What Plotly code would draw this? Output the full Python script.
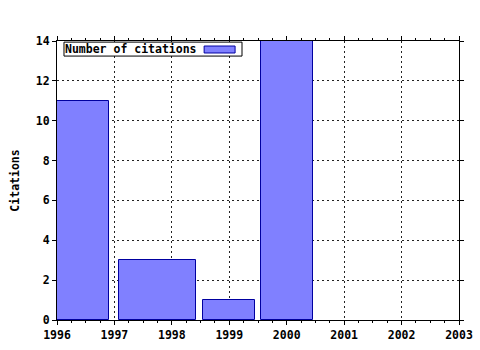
import plotly.graph_objects as go

years = [1996, 1998, 1999, 2000]
citations = [11, 3, 1, 14]
legend_label = "Number of citations"
y_title = "Citations"
x_ticks = [1996, 1997, 1998, 1999, 2000, 2001, 2002, 2003]
y_ticks = [0, 2, 4, 6, 8, 10, 12, 14]

# gnuplot-style automatic box widths (boxwidth 0.9 relative)
centers, widths = [], []
n = len(years)
for i in range(n):
    left = (years[i - 1] + years[i]) / 2 if i > 0 else years[i] - (years[i + 1] - years[i]) / 2
    right = (years[i] + years[i + 1]) / 2 if i < n - 1 else years[i] + (years[i] - years[i - 1]) / 2
    centers.append((left + right) / 2)
    widths.append(0.9 * (right - left))

font = dict(family="DejaVu Sans Mono", size=11.5, color="black", weight="bold")

fig = go.Figure()
fig.add_trace(go.Bar(
    x=centers, y=citations, width=widths, name=legend_label,
    marker=dict(color="#8080ff", line=dict(color="#0000a0", width=1)),
    showlegend=False,
))

axis_common = dict(
    showline=True, linecolor="black", linewidth=1, mirror="ticks",
    ticks="outside", ticklen=4, tickcolor="black",
    showgrid=True, gridcolor="#222222", griddash="2px,3px", gridwidth=1,
    zeroline=False, tickfont=font, automargin=False,
)
fig.update_xaxes(range=[x_ticks[0], x_ticks[-1]], tickvals=x_ticks,
                 minor=dict(dtick=0.25, ticks="outside", ticklen=2, tickcolor="black", showgrid=False),
                 **axis_common)
fig.update_yaxes(range=[y_ticks[0], y_ticks[-1]], tickvals=y_ticks,
                 title=dict(text=y_title, font=font, standoff=13), **axis_common)

# gnuplot-like legend box (text then sample)
fig.add_shape(type="rect", xref="paper", yref="paper", x0=0.0174, x1=0.4602, y0=0.946, y1=0.996,
              line=dict(color="black", width=1), fillcolor="white", layer="above")
fig.add_annotation(text=legend_label, xref="paper", yref="paper", x=0.0174, y=0.971,
                   xanchor="left", yanchor="middle", showarrow=False, font=font, xshift=-1)
fig.add_shape(type="rect", xref="paper", yref="paper", x0=0.366, x1=0.443, y0=0.957, y1=0.982,
              line=dict(color="#0000a0", width=1), fillcolor="#8080ff", layer="above")

fig.update_layout(
    width=480, height=350,
    margin=dict(l=57, r=21, t=41, b=30),
    paper_bgcolor="white", plot_bgcolor="white",
    font=font, bargap=0,
)
fig.write_html("out.html")
